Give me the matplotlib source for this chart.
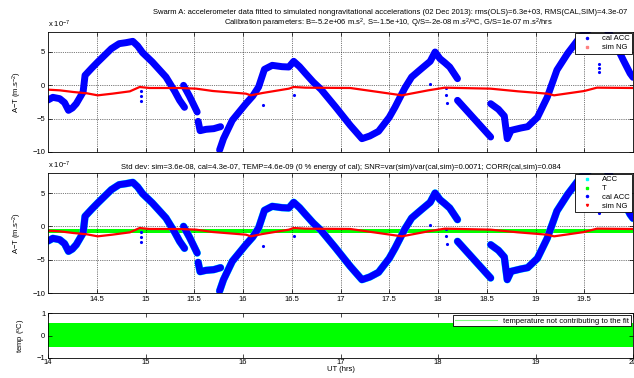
import numpy as np
import matplotlib
matplotlib.use("Agg")
import matplotlib.pyplot as plt
from matplotlib.lines import Line2D

plt.rcParams['font.family'] = ['Liberation Sans', 'DejaVu Sans']
plt.rcParams['font.size'] = 5.5
plt.rcParams['mathtext.default'] = 'regular'

nan = np.nan

# calibrated accelerometer (units of 1e-7 m/s^2), nan splits the data gaps
t_cal = [14.00, 14.05, 14.12, 14.17, 14.21, 14.25, 14.29, 14.36, 14.38, 14.45, 14.51,
         14.58, 14.65, 14.73, 14.80, 14.87, 14.92, 14.97, 15.07, 15.21, 15.30, 15.35,
         15.40, nan,
         15.39, 15.45, 15.53, nan,
         15.54, 15.56, 15.62, 15.70, 15.77, nan,
         15.76, 15.80, 15.89, 15.96, 16.03, 16.10, 16.16, 16.22, 16.30, 16.40, 16.47,
         16.52, 16.58, 16.64, 16.72, 16.80, 16.95, 17.10, 17.22, 17.30, 17.39, 17.50,
         17.56, 17.66, 17.73, 17.83, 17.92, 17.97, 18.02, 18.07, 18.12, 18.20, nan,
         18.20, 18.37, 18.54, nan,
         18.54, 18.62, 18.68, 18.71, 18.75, 18.85, 18.92, 19.02, 19.12, 19.22, 19.33,
         19.46, 19.55, 19.65, 19.73, 19.80, 19.90, 19.97, 20.00]
acc_cal = [-2.2, -1.8, -2.0, -2.6, -3.75, -3.4, -2.75, -1.0, 1.5, 2.6, 3.5,
           4.5, 5.5, 6.25, 6.4, 6.6, 5.9, 4.9, 3.5, 1.25, -0.9, -2.25,
           -3.3, nan,
           0.0, -1.6, -4.0, nan,
           -5.4, -6.8, -6.6, -6.5, -6.2, nan,
           -9.7, -8.0, -5.25, -4.0, -2.75, -1.6, -0.25, 2.4, 3.0, 2.8, 2.75,
           3.6, 2.8, 1.8, 0.5, -0.6, -3.25, -6.0, -8.0, -7.6, -6.9, -4.8,
           -3.25, -0.4, 1.25, 2.5, 3.6, 5.0, 4.0, 3.4, 2.75, 1.0, nan,
           -2.25, -5.0, -7.75, nan,
           -2.75, -3.6, -4.6, -8.0, -6.75, -6.4, -6.2, -4.8, -1.8, 2.3, 4.8,
           7.3, 8.4, 9.2, 8.4, 6.8, 3.8, 1.8, 1.2]

# stray points
t_out = [14.95, 14.95, 14.95, 16.21, 16.52, 17.92, 18.08, 18.08, 18.09, 19.65, 19.65, 19.65]
v_out = [-0.8, -1.6, -2.4, -3.0, -1.5, 0.25, -0.4, -1.4, -2.6, 2.0, 2.6, 3.2]

# simulated non-gravitational acceleration
t_sim = [14.00, 14.12, 14.26, 14.40, 14.51, 14.66, 14.84, 14.94, 15.04, 15.35, 15.52,
         15.69, 16.03, 16.08, 16.20, 16.47, 16.52, 16.64, 17.10, 17.39, 17.63, 17.90,
         18.07, 18.54, 18.82, 19.12, 19.19, 19.50, 19.63, 20.00]
sim_ng = [-0.65, -0.75, -1.0, -1.2, -1.5, -1.25, -0.9, -0.25, -0.4, -0.4, -0.5,
          -0.85, -1.25, -1.5, -1.15, -0.5, -0.25, -0.35, -0.4, -1.0, -1.5, -0.75,
          -0.35, -0.5, -0.9, -1.25, -1.5, -0.85, -0.35, -0.4]

# temperature term band (middle) and temperature (bottom)
t_T = [14.0, 20.0]
T_hi = [-0.4, -0.4]
T_lo = [-1.0, -1.0]
temp_hi = [0.55, 0.55]
temp_lo = [-0.5, -0.5]

title1 = ("Swarm A: accelerometer data fitted to simulated nongravitational accelerations "
          "(02 Dec 2013): rms(OLS)=6.3e+03, RMS(CAL,SIM)=4.3e-07")
title2 = ("Calibration parameters: B=-5.2e+06 m.s$^2$, S=-1.5e+10, Q/S=-2e-08 m.s$^2$/$^o$C, "
          "G/S=1e-07 m.s$^2$/hrs")
title_mid = ("Std dev: sim=3.6e-08, cal=4.3e-07, TEMP=4.6e-09 (0 % energy of cal); "
             "SNR=var(sim)/var(cal,sim)=0.0071; CORR(cal,sim)=0.084")

fig = plt.figure(figsize=(6.34, 3.78), dpi=100)
L, W = 48 / 634, 585 / 634
ax1 = fig.add_axes([L, 1 - 152 / 378, W, 120 / 378])
ax2 = fig.add_axes([L, 1 - 293 / 378, W, 120 / 378])
ax3 = fig.add_axes([L, 1 - 358 / 378, W, 45 / 378])


def style(ax):
    for s in ax.spines.values():
        s.set_linewidth(0.6)
    ax.tick_params(direction='in', top=True, right=True, length=3, width=0.5,
                   labelsize=5.5, pad=2)


for ax in (ax1, ax2):
    style(ax)
    ax.set_xlim(14, 20)
    ax.set_ylim(-10, 8)
    ax.set_yticks([-10, -5, 0, 5])
    ax.set_xticks([14.5, 15, 15.5, 16, 16.5, 17, 17.5, 18, 18.5, 19, 19.5])
    ax.grid(True, linestyle=':', color='k', linewidth=0.5)
    ax.set_ylabel('A$-$T (m.s$^{-2}$)', labelpad=6)
    ax.text(0, 1.02, 'x 10$^{-7}$', transform=ax.transAxes, ha='left', va='bottom')

# top panel
ax1.plot(t_cal, acc_cal, color='#0000ff', lw=5, solid_capstyle='round')
ax1.plot(t_out, v_out, '.', color='#0000ff', ms=2.5)
ax1.plot(t_sim, sim_ng, color='#ff0000', lw=1.6)
ax1.set_xticklabels([])
h1 = [Line2D([], [], ls='none', marker='.', color='#0000ff', ms=3),
      Line2D([], [], ls='none', marker='s', color='#ff8080', ms=1.5)]
ax1.legend(h1, ['cal ACC', 'sim NG'], loc='upper right', fontsize=5.5, fancybox=False,
           edgecolor='k', framealpha=1, borderpad=0.3, labelspacing=0.2,
           handlelength=2.5, borderaxespad=0.1).get_frame().set_linewidth(0.6)

# middle panel
ax2.plot(t_cal, acc_cal, color='cyan', lw=5.4, solid_capstyle='round')
ax2.fill_between(t_T, T_lo, T_hi, color='#00ff00', lw=0)
ax2.plot(t_cal, acc_cal, color='#0000ff', lw=5, solid_capstyle='round')
ax2.plot(t_out, v_out, '.', color='#0000ff', ms=2.5)
ax2.plot(t_sim, sim_ng, color='#ff0000', lw=1.6)
ax2.set_xticklabels(['14.5', '15', '15.5', '16', '16.5', '17', '17.5', '18', '18.5',
                     '19', '19.5'])
ax2.set_title(title_mid, fontsize=5.5, pad=3)
h2 = [Line2D([], [], ls='none', marker='s', color='cyan', ms=1.5),
      Line2D([], [], ls='none', marker='s', color='#00ff00', ms=1.5),
      Line2D([], [], ls='none', marker='.', color='#0000ff', ms=3),
      Line2D([], [], ls='none', marker='v', color='#ff0000', ms=1.5)]
ax2.legend(h2, ['ACC', 'T', 'cal ACC', 'sim NG'], loc='upper right', fontsize=5.5,
           fancybox=False, edgecolor='k', framealpha=1, borderpad=0.3,
           labelspacing=0.2, handlelength=2.5,
           borderaxespad=0.1).get_frame().set_linewidth(0.6)

# bottom panel
style(ax3)
ax3.fill_between(t_T, temp_lo, temp_hi, color='#00ff00', lw=0)
ax3.set_xlim(14, 20)
ax3.set_ylim(-1, 1)
ax3.set_yticks([-1, 0, 1])
ax3.set_xticks([14, 15, 16, 17, 18, 19, 20])
ax3.tick_params(axis='x', pad=1)
ax3.set_ylabel('temp ($^o$C)', labelpad=6)
ax3.set_xlabel('UT (hrs)', labelpad=0)
h3 = [Line2D([], [], color='#80ff80', lw=0.8)]
ax3.legend(h3, ['temperature not contributing to the fit'], loc='upper right',
           fontsize=5.5, fancybox=False, edgecolor='k', framealpha=1, borderpad=0.25,
           handlelength=5.5, borderaxespad=0.3).get_frame().set_linewidth(0.6)

fig.text(0.615, 0.968, title1, ha='center', va='center', fontsize=5.5)
fig.text(0.612, 0.938, title2, ha='center', va='center', fontsize=5.5)

fig.savefig('out.png', dpi=100)
